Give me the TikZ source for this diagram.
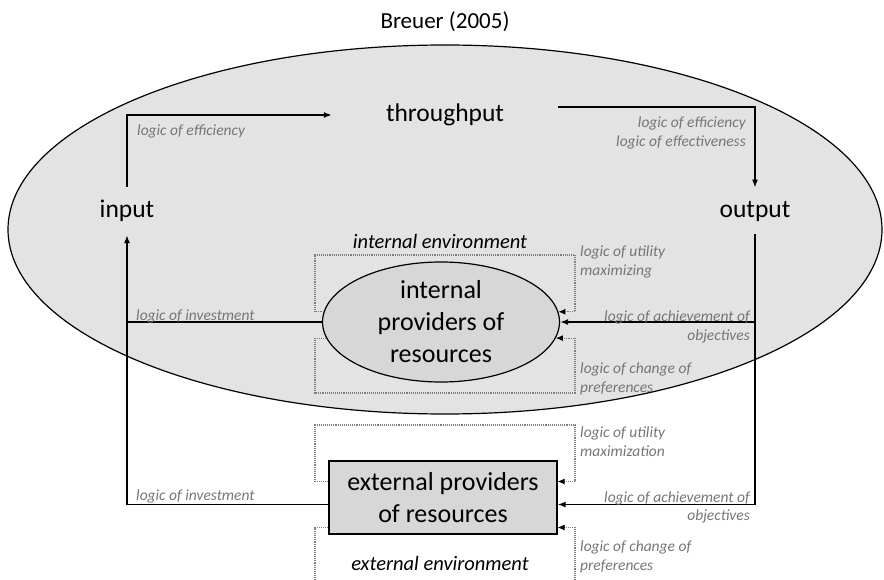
\documentclass[tikz,border=0pt]{standalone}
\usepackage{fontspec}
\setmainfont{Carlito}
\usetikzlibrary{arrows.meta, shapes.geometric, positioning}

\definecolor{envgray}{HTML}{E3E3E3}
\definecolor{provgray}{HTML}{D7D7D7}
\definecolor{logicgray}{HTML}{767676}
\definecolor{dotgray}{HTML}{7E7E7E}

\tikzset{
  flow/.style = {line width=1.6pt, -{Latex[length=8pt,width=6pt]}},
  plain/.style = {line width=1.6pt},
  pref/.style = {draw=dotgray, line width=1.1pt, densely dotted},
  prefarrow/.style = {pref, -{Latex[length=7pt,width=6pt,black]}},
  logic/.style = {font=\fontsize{15.5}{19}\selectfont\itshape, text=logicgray, inner sep=0pt},
  stage/.style = {font=\fontsize{25.5}{28}\selectfont, inner sep=13pt},
  provtext/.style = {font=\fontsize{26}{32}\selectfont, align=center},
  envtext/.style = {font=\fontsize{20.5}{22}\selectfont\itshape}
}

\begin{document}
\begin{tikzpicture}[x=1pt, y=-1pt]
\useasboundingbox (0,0) rectangle (884,580);

% organisation
\node[draw, ellipse, fill=envgray, line width=1.2pt, minimum width=874, minimum height=369] (org) at (445,229.5) {};
\node[font=\fontsize{23}{24}\selectfont] (title) at (445,22) {Breuer (2005)};

% stages
\node[stage, inner xsep=54pt] (thru) at (445,115) {throughput};
\node[stage] (in) at (127,211) {input};
\node[stage] (out) at (755,211) {output};

% providers
\node[draw, ellipse, fill=provgray, line width=1.2pt, minimum width=237, minimum height=120] (intprov) at (441,322) {};
\node[provtext] (inttext) at (intprov) {internal\\providers of\\resources};
\node[draw, fill=provgray, line width=1.2pt, minimum width=228, minimum height=73, provtext] (extprov) at (443,497.5) {external providers\\of resources};
\coordinate (extR) at ([yshift=-7pt]extprov.east);
\coordinate (extL) at ([yshift=-7pt]extprov.west);

\node[envtext] (intenv) at (440,241) {internal environment};
\node[envtext] (extenv) at (440,563) {external environment};

% main flows
\draw[flow] (in.north) |- (thru.west);
\draw[flow] ([yshift=8pt]thru.east) -| (out.north);
\draw[plain] (out.south) -- (out.south |- extR);
\draw[flow] (out.south |- intprov.east) -- (intprov.east);
\draw[flow] (out.south |- extR) -- (extR);
\draw[plain] (intprov.west) -- (intprov.west -| in.south);
\draw[flow] (extL) -| (in.south);

% preference loops
\coordinate (intNW) at (315,255);
\coordinate (intNE) at (575,255);
\coordinate (intSW) at (315,393);
\coordinate (intSE) at (575,393);
\draw[prefarrow] (intprov.175) -| (intNW) -- (intNE) |- (intprov.5);
\draw[prefarrow] (intprov.188) -| (intSW) -- (intSE) |- (intprov.352);

\coordinate (extNW) at (315,425);
\coordinate (extNE) at (575,425);
\coordinate (extSW) at (315,580);
\coordinate (extSE) at (575,580);
\draw[prefarrow] ([yshift=16pt]extprov.west) -| (extNW) -- (extNE) |- ([yshift=16pt]extprov.east);
\draw[pref] ([yshift=-30pt]extprov.west) -| (extSW);
\draw[prefarrow] (extSE) |- ([yshift=-30pt]extprov.east);

% logics
\node[logic, anchor=north west] (effin) at (137,125) {logic of efficiency};
\node[logic, anchor=north east, align=right] (effout) at (746,117) {logic of efficiency\\logic of effectiveness};
\node[logic, anchor=base west] (invint) at (136,320) {logic of investment};
\node[logic, anchor=base west] (invext) at (136,500) {logic of investment};
\node[logic, anchor=base east] (achint) at (750,321) {logic of achievement of};
\node[logic, anchor=base east] (objint) at (750,340) {objectives};
\node[logic, anchor=base east] (achext) at (750,502) {logic of achievement of};
\node[logic, anchor=base east] (objext) at (750,520) {objectives};
\node[logic, anchor=north west, align=left] (utilint) at (580,246) {logic of utility\\maximizing};
\node[logic, anchor=north west, align=left] (chgint) at (580,363) {logic of change of\\preferences};
\node[logic, anchor=north west, align=left] (utilext) at (580,427) {logic of utility\\maximization};
\node[logic, anchor=north west, align=left] (chgext) at (580,541) {logic of change of\\preferences};
\end{tikzpicture}
\end{document}
